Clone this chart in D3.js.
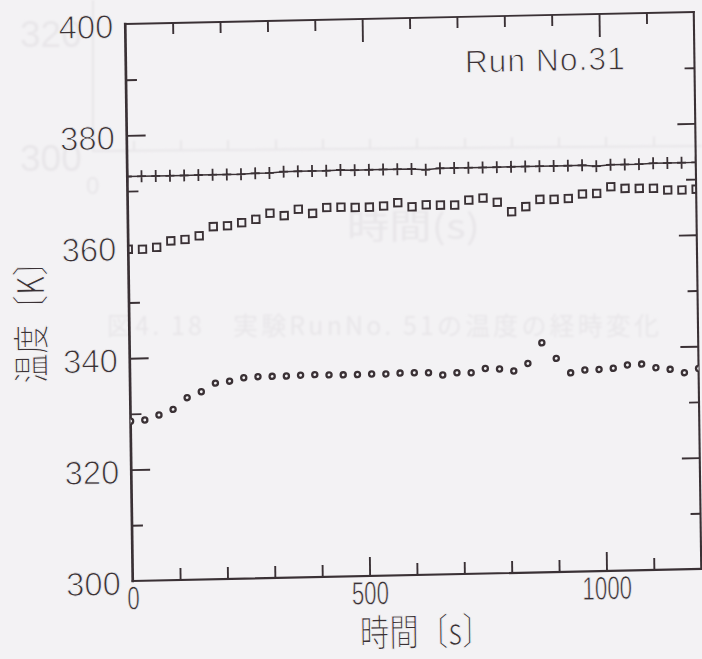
<!DOCTYPE html>
<html lang="ja">
<head>
<meta charset="utf-8">
<title>Run No.31 温度の経時変化</title>
<script src="https://cdn.jsdelivr.net/npm/d3@7/dist/d3.min.js"></script>
<style>
  html, body { margin: 0; padding: 0; background: #f3f2f4; }
  svg { display: block; }
</style>
</head>
<body>
<svg id="chart" width="702" height="659"></svg>
<script>
// Sampling times [s]
const times = [0, 30, 60, 90, 120, 150, 180, 210, 240, 270,
               300, 330, 360, 390, 420, 450, 480, 510, 540, 570,
               600, 630, 660, 690, 720, 750, 780, 810, 840, 870,
               900, 930, 960, 990, 1020, 1050, 1080, 1110, 1140, 1170, 1200];

// Temperatures [K] of the three measuring points
const plusTemps = [372.6, 372.6, 372.6, 372.6, 372.6, 372.6, 372.6, 372.6, 372.6, 372.7,
                   372.7, 372.9, 372.9, 372.9, 372.9, 373.0, 372.9, 372.9, 372.9, 372.9,
                   372.9, 372.7, 372.9, 372.9, 372.9, 372.9, 372.9, 372.9, 372.9, 372.9,
                   372.9, 372.9, 372.9, 372.7, 372.9, 372.9, 372.9, 373.0, 373.0, 373.0,
                   373.0];
const squareTemps = [359.55, 359.5, 359.8, 360.9, 361.1, 361.7, 363.3, 363.4, 363.9, 364.45,
                     365.5, 365.0, 366.1, 365.3, 366.3, 366.3, 366.2, 366.2, 366.35, 366.9,
                     366.1, 366.4, 366.3, 366.25, 367.1, 367.4, 366.6, 364.85, 365.7, 366.95,
                     366.9, 367.0, 367.75, 367.8, 368.95, 368.6, 368.55, 368.5, 368.15, 368.1,
                     368.2];
const circleTemps = [328.7, 328.85, 329.7, 330.65, 332.7, 333.7, 335.2, 335.5, 336.05, 336.2,
                     336.2, 336.2, 336.3, 336.35, 336.25, 336.2, 336.2, 336.25, 336.2, 336.3,
                     336.3, 336.25, 335.8, 336.15, 336.1, 336.8, 336.65, 336.25, 337.55, 341.2,
                     338.35, 335.7, 336.15, 336.2, 336.35, 336.9, 337.0, 336.3, 335.95, 335.3,
                     336.0];

// Axis ticks
const yLabelTicks = [300, 320, 340, 360, 380, 400];
const yLeftMajor  = [320, 340, 380];
const yRightMajor = [320, 340, 360, 380];
const yMinor      = [310, 330, 350, 370, 390];
const xLabelTicks = [0, 500, 1000];
const xMajor      = [500, 1000];
const xMinor      = [100, 200, 300, 400, 600, 700, 800, 900, 1100];

const INK = "#3a3135";
const PAPER = "#f3f2f4";
const GHOST = "#e8e6e9";
const LATIN = "'Liberation Sans', Arial, sans-serif";
const CJK = "'Noto Sans CJK JP', 'Noto Sans CJK SC', sans-serif";

const W = 572, H = 559;
const svg = d3.select("#chart");
svg.append("rect").attr("width", 702).attr("height", 659).attr("fill", PAPER);

// Thin-stroked lettering: a paper-coloured outline trims the glyph edges
function thin(sel, w) {
  return sel.attr("stroke", PAPER).attr("stroke-width", w).attr("paint-order", "fill");
}

// Faint print showing through from the reverse side of the sheet
const defs = svg.append("defs");
defs.append("filter").attr("id", "soft")
  .append("feGaussianBlur").attr("stdDeviation", 1.0);
const ghost = svg.append("g").attr("filter", "url(#soft)")
  .attr("fill", GHOST).attr("stroke", "none");
ghost.append("text").attr("x", 20).attr("y", 47).attr("font-family", LATIN)
  .attr("font-size", 37).text("320");
ghost.append("text").attr("x", 20).attr("y", 171).attr("font-family", LATIN)
  .attr("font-size", 37).text("300");
ghost.append("text").attr("x", 86).attr("y", 194).attr("font-family", LATIN)
  .attr("font-size", 24).text("0");
ghost.append("path").attr("fill", "none").attr("stroke", GHOST).attr("stroke-width", 2)
  .attr("d", "M93,0V151L702,146");
const ghostTicks = [134, 181, 228, 276, 323, 370, 417, 465, 512, 559, 606, 654];
ghost.selectAll("line.gt").data(ghostTicks).join("line")
  .attr("x1", d => d).attr("x2", d => d)
  .attr("y1", d => 151 - (d - 93) * 0.0082).attr("y2", d => 141 - (d - 93) * 0.0082)
  .attr("stroke", GHOST).attr("stroke-width", 2);
ghost.append("text").attr("x", 347).attr("y", 239).attr("font-family", CJK)
  .attr("font-size", 34).attr("textLength", 133).attr("lengthAdjust", "spacingAndGlyphs")
  .text("時間(s)");
ghost.append("text").attr("x", 107).attr("y", 335).attr("font-family", CJK)
  .attr("font-size", 25).attr("textLength", 552).attr("lengthAdjust", "spacing")
  .text("図4. 18　実験RunNo. 51の温度の経時変化");

// Chart group: the sheet sits slightly askew
const plot = svg.append("g")
  .attr("transform", "matrix(0.9939,-0.021,0.0134,0.9964,125.25,24)");

const x = d3.scaleLinear().domain([0, 1200]).range([0, W]);
const y = d3.scaleLinear().domain([300, 400]).range([H, 0]);

defs.append("clipPath").attr("id", "plotClip")
  .append("rect").attr("x", 0).attr("y", 0).attr("width", W).attr("height", H);

// Inward tick marks on all four sides
function tickSet(axis, values, size, transform) {
  const g = plot.append("g")
    .attr("transform", transform || null)
    .call(axis.tickValues(values).tickSizeInner(-size).tickSizeOuter(0).tickFormat(""));
  g.select(".domain").remove();
  g.selectAll(".tick line").attr("stroke", INK).attr("stroke-width", 1.9);
}
tickSet(d3.axisLeft(y), yLeftMajor, 19);
tickSet(d3.axisLeft(y), yMinor, 11);
tickSet(d3.axisRight(y), yRightMajor, 18, `translate(${W},0)`);
tickSet(d3.axisRight(y), yMinor, 10, `translate(${W},0)`);
tickSet(d3.axisTop(x), xMajor, 23);
tickSet(d3.axisTop(x), xMinor, 11);
tickSet(d3.axisBottom(x), xMajor, 19, `translate(0,${H})`);
tickSet(d3.axisBottom(x), xMinor, 12, `translate(0,${H})`);

// Frame
const frame = [
  { x1: x(0), y1: y(300), x2: x(0), y2: y(400), w: 2.7 },
  { x1: x(0), y1: y(300), x2: x(1200), y2: y(300), w: 2.2 },
  { x1: x(0), y1: y(400), x2: x(1200), y2: y(400), w: 1.9 },
  { x1: x(1200), y1: y(300), x2: x(1200), y2: y(400), w: 2.1 }
];
plot.append("g").selectAll("line").data(frame).join("line")
  .attr("x1", d => d.x1).attr("y1", d => d.y1)
  .attr("x2", d => d.x2).attr("y2", d => d.y2)
  .attr("stroke", INK).attr("stroke-width", d => d.w).attr("stroke-linecap", "square");

// Tick labels
const yLab = plot.append("g")
  .call(d3.axisLeft(y).tickValues(yLabelTicks).tickSize(0).tickPadding(12).tickFormat(d3.format("d")));
yLab.select(".domain").remove();
thin(yLab.selectAll("text").attr("font-family", LATIN).attr("font-size", 33)
  .attr("fill", INK).attr("dy", "0.4em"), 0.9);

const xLab = plot.append("g").attr("transform", `translate(0,${H})`)
  .call(d3.axisBottom(x).tickValues(xLabelTicks).tickSize(0).tickPadding(0).tickFormat(d3.format("d")));
xLab.select(".domain").remove();
thin(xLab.selectAll("text").attr("font-family", LATIN).attr("font-size", 33)
  .attr("fill", INK).attr("y", 0).attr("dy", 0)
  .attr("transform", "translate(0,28.5) scale(0.68,1)"), 0.7);

// Axis titles
thin(plot.append("text")
  .attr("transform", "translate(294,630) scale(0.78,1)")
  .attr("text-anchor", "middle").attr("font-family", CJK).attr("font-size", 38)
  .attr("fill", INK).text("時間〔s〕"), 1.1);
thin(plot.append("text")
  .attr("transform", "translate(-99,297) rotate(-90) scale(0.78,1)")
  .attr("x", 9).attr("y", 14)
  .attr("text-anchor", "middle").attr("font-family", CJK).attr("font-size", 38)
  .attr("fill", INK).text("温度〔K〕"), 1.1);

// Run label
thin(plot.append("text").attr("x", 341).attr("y", 56)
  .attr("font-family", LATIN).attr("font-size", 32).attr("letter-spacing", 1)
  .attr("fill", INK).text("Run No.31"), 0.9);

// Data
const data = plot.append("g").attr("clip-path", "url(#plotClip)");
const plusPts = times.map((t, i) => ({ t, v: plusTemps[i] }));
const squarePts = times.map((t, i) => ({ t, v: squareTemps[i] }));
const circlePts = times.map((t, i) => ({ t, v: circleTemps[i] }));

data.append("path").datum(plusPts)
  .attr("d", d3.line().x(d => x(d.t)).y(d => y(d.v)))
  .attr("fill", "none").attr("stroke", INK).attr("stroke-width", 1.5);
data.append("g").selectAll("path").data(plusPts).join("path")
  .attr("d", d => `M${x(d.t) - 4.5},${y(d.v)}h9M${x(d.t)},${y(d.v) - 6}v12`)
  .attr("fill", "none").attr("stroke", INK).attr("stroke-width", 1.8);

data.append("g").selectAll("rect").data(squarePts).join("rect")
  .attr("x", d => x(d.t) - 3.75).attr("y", d => y(d.v) - 3.75)
  .attr("width", 7.5).attr("height", 7.5)
  .attr("fill", "none").attr("stroke", INK).attr("stroke-width", 1.9);

data.append("g").selectAll("circle").data(circlePts).join("circle")
  .attr("cx", d => x(d.t)).attr("cy", d => y(d.v)).attr("r", 2.6)
  .attr("fill", PAPER).attr("stroke", INK).attr("stroke-width", 2.3);
</script>
</body>
</html>
